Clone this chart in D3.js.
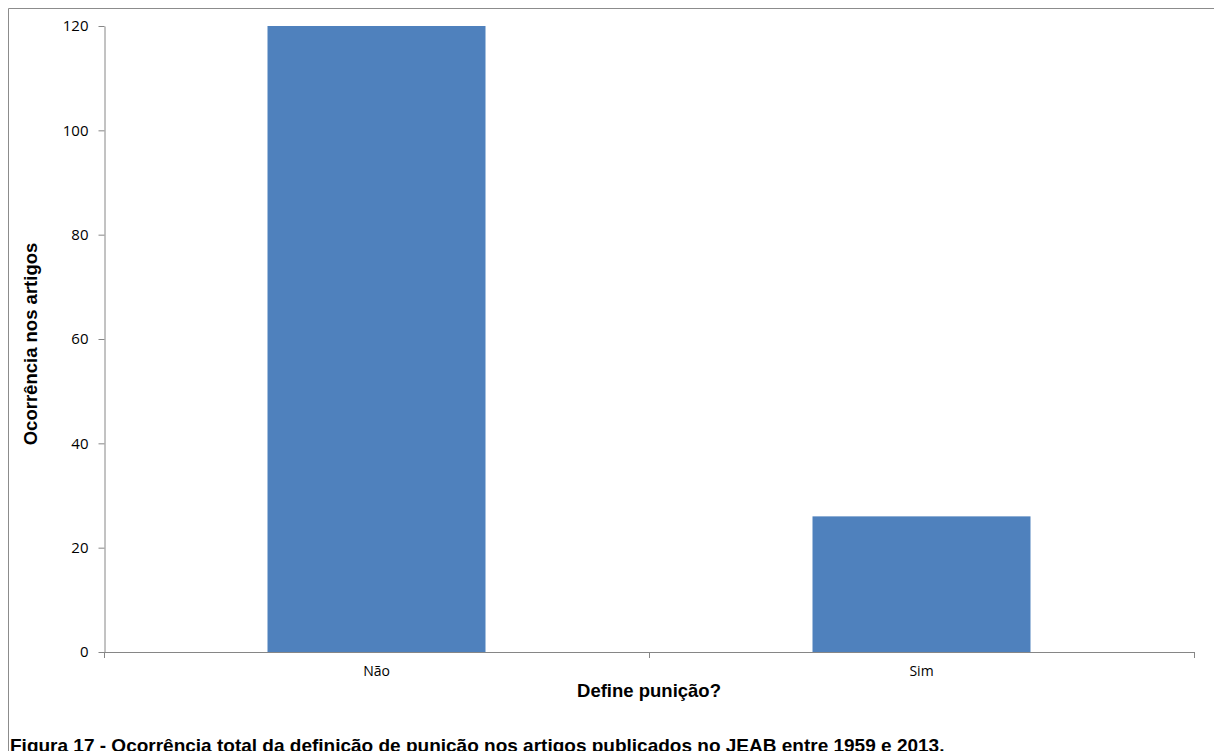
<!DOCTYPE html>
<html><head><meta charset="utf-8">
<script src="https://cdn.jsdelivr.net/npm/d3@7"></script>
<style>body{margin:0;background:#fff}svg{display:block}</style>
</head><body>
<svg id="chart" width="1214" height="751"></svg>
<script>
const categories = ["Não", "Sim"];
const values = [120, 26];
const yTicks = [0, 20, 40, 60, 80, 100, 120];
const xTitle = "Define punição?";
const yTitle = "Ocorrência nos artigos";
const caption = "Figura 17 - Ocorrência total da definição de punição nos artigos publicados no JEAB entre 1959 e 2013.";

const svg = d3.select("#chart");
const axisColor = "#868686";

// outer frame
svg.append("path").attr("d", "M8.5,760 V8.5 H1230").attr("fill", "none").attr("stroke", "#8c8c8c").attr("stroke-width", 1);

const pLeft = 104, pRight = 1194, pTop = 26, pBottom = 652;
const x = d3.scaleBand().domain(categories).range([pLeft, pRight]).paddingInner(0.6).paddingOuter(0.3);
const y = d3.scaleLinear().domain([0, 120]).range([pBottom, pTop]);

svg.append("g").selectAll("rect").data(values).join("rect")
  .attr("x", (d, i) => x(categories[i]))
  .attr("width", x.bandwidth())
  .attr("y", d => y(d))
  .attr("height", d => y(0) - y(d))
  .attr("fill", "#4f81bd");

// y axis
const ya = svg.append("g").attr("transform", `translate(${pLeft + 0.5},0)`)
  .call(d3.axisLeft(y).tickValues(yTicks).tickSize(6).tickPadding(10).tickSizeOuter(0));
ya.select(".domain").attr("stroke", axisColor);
ya.selectAll(".tick line").attr("stroke", axisColor);
ya.selectAll("text").attr("font-family", "'Open Sans', sans-serif").attr("font-size", 15).attr("fill", "#000");

// x axis
const xa = svg.append("g").attr("transform", `translate(0,${pBottom + 0.5})`)
  .call(d3.axisBottom(x).tickSize(0).tickPadding(14));
xa.select(".domain").attr("stroke", axisColor).attr("d", `M${pLeft},0H${pRight}`);
xa.selectAll("text").attr("font-family", "'Open Sans', sans-serif").attr("font-size", 14).attr("fill", "#000");
// category boundary ticks
const boundaries = [pLeft, (pLeft + pRight) / 2, pRight];
svg.append("g").selectAll("line").data(boundaries).join("line")
  .attr("x1", d => Math.round(d) + 0.5).attr("x2", d => Math.round(d) + 0.5)
  .attr("y1", pBottom).attr("y2", pBottom + 6)
  .attr("stroke", axisColor);

svg.append("text").attr("x", (pLeft + pRight) / 2).attr("y", 697)
  .attr("text-anchor", "middle").attr("font-family", "Arial, 'Liberation Sans', sans-serif")
  .attr("font-weight", "bold").attr("font-size", 18.5).text(xTitle);

svg.append("text").attr("transform", `translate(37,344) rotate(-90)`)
  .attr("text-anchor", "middle").attr("font-family", "Arial, 'Liberation Sans', sans-serif")
  .attr("font-weight", "bold").attr("font-size", 18.5).text(yTitle);

svg.append("text").attr("x", 10).attr("y", 752)
  .attr("font-family", "Arial, 'Liberation Sans', sans-serif")
  .attr("font-weight", "bold").attr("font-size", 19).text(caption);
</script>
</body></html>
